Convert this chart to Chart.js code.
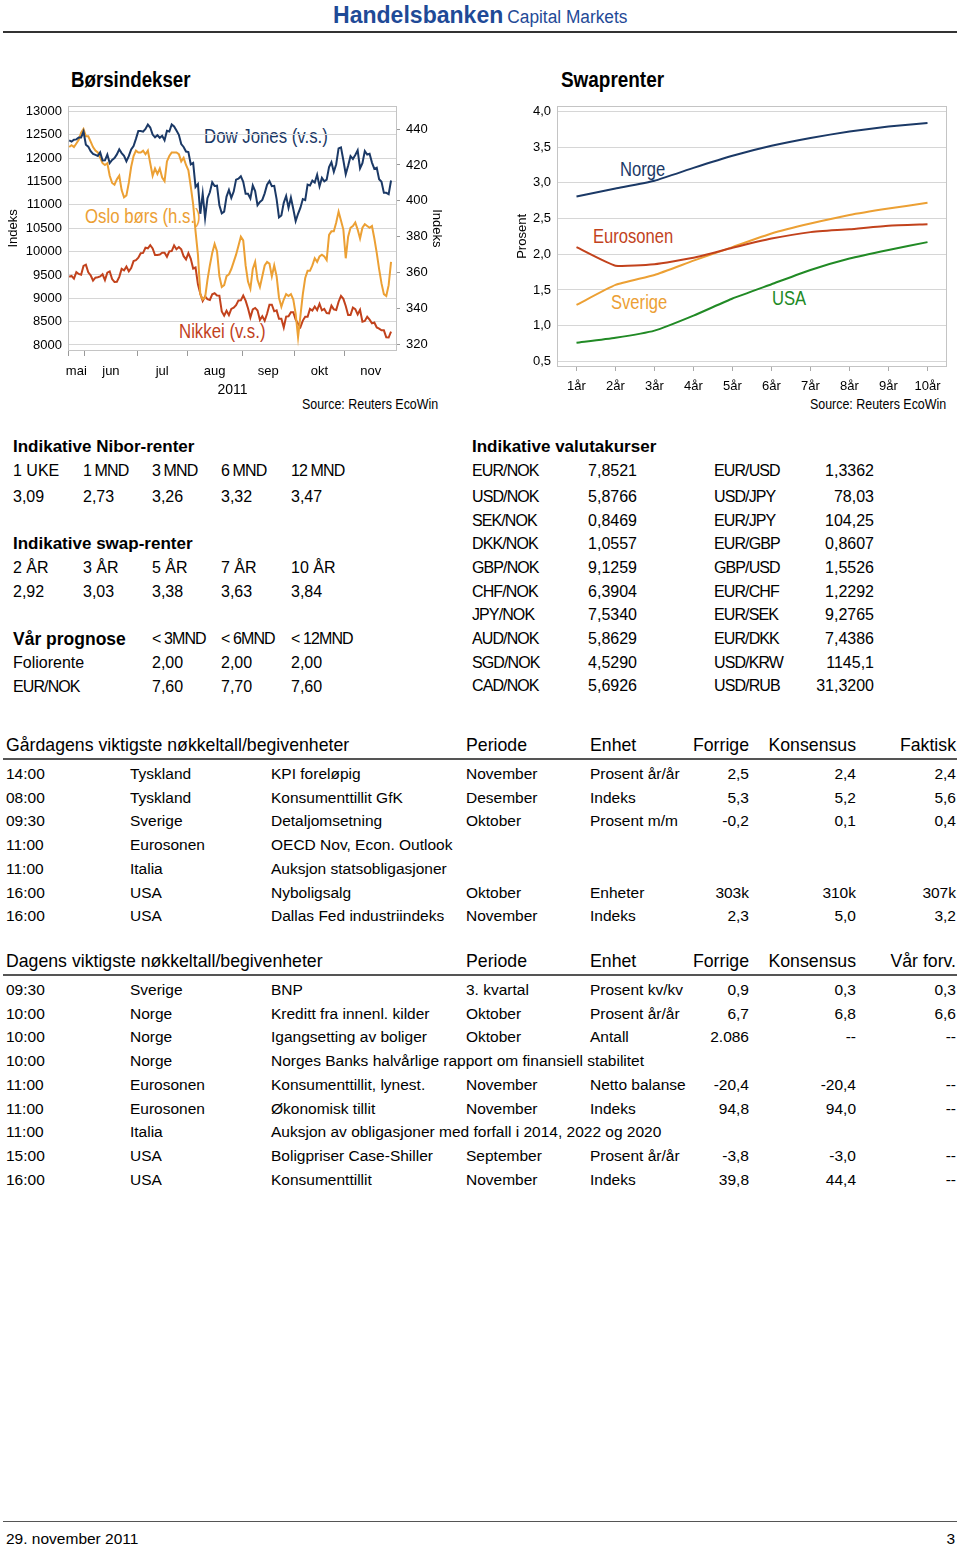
<!DOCTYPE html>
<html>
<head>
<meta charset="utf-8">
<script src="https://cdn.jsdelivr.net/npm/chart.js@4.4.1/dist/chart.umd.min.js"></script>
<style>
body { margin:0; width:960px; height:1546px; position:relative; background:#fff; font-family:'Liberation Sans', Arial, sans-serif; color:#000; overflow:hidden; }
.t { position:absolute; white-space:nowrap; line-height:20px; height:20px; font-size:15px; z-index:1; }
.b { font-weight:bold; }
.tight { letter-spacing:-0.9px; }
.hr { position:absolute; left:3px; width:954px; background:#333; }
canvas { position:absolute; z-index:2; }
</style>
</head>
<body>
<div class="t" style="left:333px; top:2px; height:26px; line-height:26px; color:#1f4a97; transform:scaleX(0.96); transform-origin:0 50%;"><span class="b" style="font-size:24px">Handelsbanken</span> <span style="font-size:18px">Capital Markets</span></div>
<div class="hr" style="top:31px; height:2px;"></div>
<div class="hr" style="top:1521px; height:1px; background:#555;"></div>

<canvas id="c1" width="450" height="308" style="left:0; top:92px;"></canvas>
<canvas id="c2" width="460" height="303" style="left:500px; top:92px;"></canvas>

<script>
// weekday index from 23 May 2011, month boundaries on the same index
const monthBounds = [0, 7, 29, 50, 73, 95, 116, 138];
const monthNames = ['mai', 'jun', 'jul', 'aug', 'sep', 'okt', 'nov'];
const leftTicks = [8000, 8500, 9000, 9500, 10000, 10500, 11000, 11500, 12000, 12500, 13000];
const rightTicks = [320, 340, 360, 380, 400, 420, 440];

const dowJones = [
  12381, 12356, 12395, 12403, 12442, 12442, 12570, 12290, 12248, 12152,
  12090, 12070, 12049, 12124, 11952, 11953, 12076, 11897, 11962, 12004,
  12081, 12190, 12110, 12050, 11934, 12043, 12188, 12262, 12414, 12582,
  12582, 12569, 12626, 12719, 12657, 12506, 12447, 12492, 12437, 12480,
  12386, 12588, 12572, 12724, 12681, 12593, 12502, 12302, 12240, 12143,
  12132, 11867, 11897, 11384, 11445, 10810, 11240, 10720, 11144, 11270,
  11483, 11406, 11411, 10991, 10818, 10855, 11177, 11320, 11150, 11285,
  11540, 11560, 11614, 11494, 11240, 11240, 11139, 11415, 11296, 10993,
  11062, 11106, 11247, 11434, 11510, 11401, 11409, 11125, 10734, 10772,
  11044, 11191, 10937, 11154, 10913, 10655, 10809, 10940, 11124, 11103,
  11433, 11417, 11519, 11479, 11645, 11397, 11578, 11505, 11541, 11809,
  11913, 11707, 11870, 12209, 12232, 11955, 11658, 11836, 12044, 11983,
  12068, 12170, 11781, 11894, 12154, 12079, 12096, 11906, 11771, 11796,
  11548, 11494, 11258, 11258, 11231, 11523
];

const osloBors = [
  430, 431, 430, 432, 434, 438, 440, 436, 436, 433,
  430, 428, 427, 424, 421, 420, 421, 414, 410, 409,
  412, 414, 406, 402, 403, 410, 419, 425, 428, 427,
  427, 428, 426, 428, 421, 414, 418, 415, 418, 413,
  411, 422, 425, 427, 427, 427, 426, 422, 424, 420,
  417, 408, 398, 383, 370, 348, 345, 346, 356, 364,
  371, 376, 372, 358, 352, 353, 358, 359, 362, 366,
  370, 375, 380, 378, 364, 355, 351, 362, 366, 356,
  352, 358, 364, 366, 365, 358, 364, 358, 346, 341,
  345, 348, 347, 348, 345, 337, 324, 336, 348, 357,
  361, 361, 364, 368, 366, 369, 370, 369, 367, 381,
  383, 383, 388, 394, 389, 384, 368, 380, 385, 386,
  388, 384, 379, 385, 387, 386, 385, 386, 379, 371,
  362, 354, 348, 347, 353, 366
];

const nikkei = [
  9460, 9477, 9422, 9562, 9521, 9505, 9694, 9720, 9555, 9492,
  9380, 9442, 9449, 9467, 9514, 9391, 9547, 9574, 9411, 9351,
  9354, 9459, 9629, 9596, 9678, 9578, 9648, 9797, 9816, 9868,
  9965, 9972, 10082, 10071, 10138, 10069, 9926, 9925, 9936, 9974,
  9974, 9889, 10005, 10010, 10132, 10050, 10097, 10047, 9901, 9833,
  9965, 9844, 9637, 9659, 9300, 9097, 8944, 9039, 8982, 8964,
  9086, 9107, 9058, 9057, 8719, 8628, 8733, 8639, 8772, 8797,
  8851, 8954, 8955, 9060, 8950, 8785, 8590, 8763, 8793, 8737,
  8535, 8617, 8518, 8668, 8864, 8864, 8721, 8741, 8560, 8560,
  8374, 8609, 8615, 8701, 8700, 8545, 8456, 8382, 8522, 8606,
  8606, 8773, 8738, 8823, 8747, 8879, 8741, 8772, 8682, 8678,
  8843, 8762, 8748, 8926, 9050, 8988, 8835, 8640, 8640, 8801,
  8767, 8655, 8755, 8500, 8514, 8603, 8541, 8463, 8480, 8374,
  8349, 8314, 8314, 8165, 8160, 8288
];

const tenors = ['1år', '2år', '3år', '4år', '5år', '6år', '7år', '8år', '9år', '10år'];
const swapNorge = [2.81, 2.92, 3.03, 3.21, 3.38, 3.52, 3.63, 3.72, 3.79, 3.84];
const swapEuro = [2.10, 1.84, 1.86, 1.95, 2.09, 2.22, 2.31, 2.35, 2.40, 2.42];
const swapSverige = [1.29, 1.57, 1.71, 1.91, 2.10, 2.29, 2.43, 2.55, 2.64, 2.72];
const swapUSA = [0.76, 0.83, 0.93, 1.14, 1.38, 1.58, 1.78, 1.94, 2.06, 2.17];
const swapTicks = [0.5, 1.0, 1.5, 2.0, 2.5, 3.0, 3.5, 4.0];

const niborHead = ['1 UKE', '1 MND', '3 MND', '6 MND', '12 MND'];
const niborVals = ['3,09', '2,73', '3,26', '3,32', '3,47'];
const swapHead = ['2 ÅR', '3 ÅR', '5 ÅR', '7 ÅR', '10 ÅR'];
const swapVals = ['2,92', '3,03', '3,38', '3,63', '3,84'];
const prognoseHead = ['< 3MND', '< 6MND', '< 12MND'];
const prognose = [
  ['Foliorente', '2,00', '2,00', '2,00'],
  ['EUR/NOK', '7,60', '7,70', '7,60']
];
const valuta = [
  ['EUR/NOK', '7,8521', 'EUR/USD', '1,3362'],
  ['USD/NOK', '5,8766', 'USD/JPY', '78,03'],
  ['SEK/NOK', '0,8469', 'EUR/JPY', '104,25'],
  ['DKK/NOK', '1,0557', 'EUR/GBP', '0,8607'],
  ['GBP/NOK', '9,1259', 'GBP/USD', '1,5526'],
  ['CHF/NOK', '6,3904', 'EUR/CHF', '1,2292'],
  ['JPY/NOK', '7,5340', 'EUR/SEK', '9,2765'],
  ['AUD/NOK', '5,8629', 'EUR/DKK', '7,4386'],
  ['SGD/NOK', '4,5290', 'USD/KRW', '1145,1'],
  ['CAD/NOK', '5,6926', 'USD/RUB', '31,3200']
];
const gaarHead = ['Gårdagens viktigste nøkkeltall/begivenheter', 'Periode', 'Enhet', 'Forrige', 'Konsensus', 'Faktisk'];
const gaarRows = [
  ['14:00', 'Tyskland', 'KPI foreløpig', 'November', 'Prosent år/år', '2,5', '2,4', '2,4'],
  ['08:00', 'Tyskland', 'Konsumenttillit GfK', 'Desember', 'Indeks', '5,3', '5,2', '5,6'],
  ['09:30', 'Sverige', 'Detaljomsetning', 'Oktober', 'Prosent m/m', '-0,2', '0,1', '0,4'],
  ['11:00', 'Eurosonen', 'OECD Nov, Econ. Outlook', '', '', '', '', ''],
  ['11:00', 'Italia', 'Auksjon statsobligasjoner', '', '', '', '', ''],
  ['16:00', 'USA', 'Nyboligsalg', 'Oktober', 'Enheter', '303k', '310k', '307k'],
  ['16:00', 'USA', 'Dallas Fed industriindeks', 'November', 'Indeks', '2,3', '5,0', '3,2']
];
const dagHead = ['Dagens viktigste nøkkeltall/begivenheter', 'Periode', 'Enhet', 'Forrige', 'Konsensus', 'Vår forv.'];
const dagRows = [
  ['09:30', 'Sverige', 'BNP', '3. kvartal', 'Prosent kv/kv', '0,9', '0,3', '0,3'],
  ['10:00', 'Norge', 'Kreditt fra innenl. kilder', 'Oktober', 'Prosent år/år', '6,7', '6,8', '6,6'],
  ['10:00', 'Norge', 'Igangsetting av boliger', 'Oktober', 'Antall', '2.086', '--', '--'],
  ['10:00', 'Norge', 'Norges Banks halvårlige rapport om finansiell stabilitet', '', '', '', '', ''],
  ['11:00', 'Eurosonen', 'Konsumenttillit, lynest.', 'November', 'Netto balanse', '-20,4', '-20,4', '--'],
  ['11:00', 'Eurosonen', 'Økonomisk tillit', 'November', 'Indeks', '94,8', '94,0', '--'],
  ['11:00', 'Italia', 'Auksjon av obligasjoner med forfall i 2014, 2022 og 2020', '', '', '', '', ''],
  ['15:00', 'USA', 'Boligpriser Case-Shiller', 'September', 'Prosent år/år', '-3,8', '-3,0', '--'],
  ['16:00', 'USA', 'Konsumenttillit', 'November', 'Indeks', '39,8', '44,4', '--']
];

const navy = '#1b3966';
const orange = '#eca034';
const red = '#c2421c';
const green = '#218a25';

// put a text line, y is its vertical centre; sx squeezes it like the narrow font of the original
function put(text, x, y, size, cls, color, right, sx) {
    var d = document.createElement('div');
    d.className = 't ' + (cls || '');
    d.textContent = text;
    d.style.fontSize = size + 'px';
    d.style.top = (y - 10) + 'px';
    if (right) d.style.right = (960 - x) + 'px';
    else d.style.left = x + 'px';
    if (color) d.style.color = color;
    if (sx) {
        d.style.transform = 'scaleX(' + sx + ')';
        d.style.transformOrigin = right ? '100% 50%' : '0 50%';
    }
    document.body.appendChild(d);
}

// titles, in-chart labels and sources
put('Børsindekser', 71, 80, 22, 'b', null, false, 0.85);
put('Swaprenter', 561, 80, 22, 'b', null, false, 0.86);
put('Dow Jones (v.s.)', 204, 136, 20, '', navy, false, 0.84);
put('Oslo børs (h.s.)', 85, 216, 20, '', orange, false, 0.84);
put('Nikkei (v.s.)', 179, 331, 20, '', red, false, 0.84);
put('Norge', 620, 169, 20, '', navy, false, 0.83);
put('Eurosonen', 593, 236, 20, '', red, false, 0.83);
put('Sverige', 611, 302, 20, '', orange, false, 0.83);
put('USA', 772, 298, 20, '', green, false, 0.83);
put('Source: Reuters EcoWin', 438, 404, 15, '', null, true, 0.83);
put('Source: Reuters EcoWin', 946, 404, 15, '', null, true, 0.83);

// upper tables
var colX = [13, 83, 152, 221, 291];
put('Indikative Nibor-renter', 13, 447, 17, 'b');
niborHead.forEach(function(s, i) { put(s, colX[i], 471, 16, i ? 'tight' : ''); });
niborVals.forEach(function(s, i) { put(s, colX[i], 497, 16); });
put('Indikative swap-renter', 13, 544, 17, 'b');
swapHead.forEach(function(s, i) { put(s, colX[i], 568, 16); });
swapVals.forEach(function(s, i) { put(s, colX[i], 592, 16); });
put('Vår prognose', 13, 639, 17.5, 'b');
prognoseHead.forEach(function(s, i) { put(s, colX[i + 2], 639, 16, 'tight'); });
prognose.forEach(function(r, j) {
    put(r[0], 13, 663 + j * 23.5, 16, j ? 'tight' : '');
    for (var i = 1; i < 4; i++) put(r[i], colX[i + 1], 663 + j * 23.5, 16);
});

put('Indikative valutakurser', 472, 447, 17, 'b');
var valY = [471, 497, 521, 544, 568, 592, 615, 639, 663, 686];
valuta.forEach(function(r, j) {
    put(r[0], 472, valY[j], 16, 'tight');
    put(r[1], 637, valY[j], 16, '', null, true);
    put(r[2], 714, valY[j], 16, 'tight');
    put(r[3], 874, valY[j], 16, '', null, true);
});

// event tables
function eventTable(head, rows, top) {
    put(head[0], 6, top, 17.7);
    put(head[1], 466, top, 17.7);
    put(head[2], 590, top, 17.7);
    put(head[3], 749, top, 17.7, '', null, true);
    put(head[4], 856, top, 17.7, '', null, true);
    put(head[5], 956, top, 17.7, '', null, true);
    var line = document.createElement('div');
    line.className = 'hr';
    line.style.top = (top + 13) + 'px';
    line.style.height = '2px';
    line.style.background = '#555';
    document.body.appendChild(line);
    rows.forEach(function(r, j) {
        var y = top + 29 + j * 23.7;
        put(r[0], 6, y, 15.5);
        put(r[1], 130, y, 15.5);
        put(r[2], 271, y, 15.5);
        put(r[3], 466, y, 15.5);
        put(r[4], 590, y, 15.5);
        put(r[5], 749, y, 15.5, '', null, true);
        put(r[6], 856, y, 15.5, '', null, true);
        put(r[7], 956, y, 15.5, '', null, true);
    });
}
eventTable(gaarHead, gaarRows, 745);
eventTable(dagHead, dagRows, 961);

put('29. november 2011', 6, 1539, 15.5);
put('3', 955, 1539, 15.5, '', null, true);

Chart.defaults.font.family = "'Liberation Sans', Arial, sans-serif";
Chart.defaults.font.size = 13;
Chart.defaults.color = '#000';

const boxPlugin = {
    id: 'box',
    beforeDatasetsDraw: function(chart) {
        const a = chart.chartArea, c = chart.ctx;
        c.save();
        c.strokeStyle = '#c4c4c4';
        c.lineWidth = 1;
        c.strokeRect(Math.round(a.left) + 0.5, Math.round(a.top) + 0.5, Math.round(a.width) - 1, Math.round(a.height) - 1);
        c.restore();
    }
};

function pts(arr) {
    return arr.map(function(v, i) { return { x: i + 0.5, y: v }; });
}
function fixWidth(w) { return function(s) { s.width = w; }; }
function fixHeight(h) { return function(s) { s.height = h; }; }

new Chart(document.getElementById('c1'), {
    type: 'line',
    data: {
        datasets: [
            { label: 'Dow Jones (v.s.)', data: pts(dowJones), yAxisID: 'yL', borderColor: navy, borderWidth: 2 },
            { label: 'Oslo børs (h.s.)', data: pts(osloBors), yAxisID: 'yR', borderColor: orange, borderWidth: 2 },
            { label: 'Nikkei (v.s.)', data: pts(nikkei), yAxisID: 'yL', borderColor: red, borderWidth: 2 }
        ]
    },
    options: {
        responsive: false,
        animation: false,
        devicePixelRatio: 1,
        layout: { padding: { top: 4, left: 0, right: 0, bottom: 0 } },
        elements: { point: { radius: 0 }, line: { tension: 0 } },
        plugins: { legend: { display: false }, tooltip: { enabled: false } },
        scales: {
            x: {
                type: 'linear', position: 'bottom', min: 0, max: 138,
                afterBuildTicks: function(s) { s.ticks = monthBounds.slice(0, 7).map(function(v) { return { value: v }; }); },
                ticks: { display: false },
                grid: { drawOnChartArea: false, drawTicks: true, tickLength: 5, color: '#999' },
                border: { display: false },
                afterFit: fixHeight(6)
            },
            x2: {
                type: 'linear', position: 'bottom', min: 0, max: 138,
                afterBuildTicks: function(s) {
                    s.ticks = monthNames.map(function(m, i) { return { value: (monthBounds[i] + monthBounds[i + 1]) / 2 }; });
                },
                ticks: { autoSkip: false, maxRotation: 0, padding: 7, callback: function(v, i) { return monthNames[i]; } },
                grid: { display: false, drawTicks: false },
                border: { display: false },
                title: { display: true, text: '2011', font: { size: 14 }, padding: { top: 0, bottom: 1 } },
                afterFit: fixHeight(43)
            },
            yL: {
                position: 'left', min: 7871, max: 13122,
                afterBuildTicks: function(s) { s.ticks = leftTicks.map(function(v) { return { value: v }; }); },
                ticks: { padding: 6, callback: function(v) { return String(v); } },
                grid: { color: '#d6d6d6', drawTicks: false },
                border: { display: false },
                title: { display: true, text: 'Indeks', font: { size: 13 }, padding: { top: 6, bottom: 0 } },
                afterFit: fixWidth(68)
            },
            yR: {
                position: 'right', min: 316.3, max: 453,
                afterBuildTicks: function(s) { s.ticks = rightTicks.map(function(v) { return { value: v }; }); },
                ticks: { padding: 6, callback: function(v) { return String(v); } },
                grid: { drawOnChartArea: false, tickLength: 3, color: '#999' },
                border: { display: false },
                title: { display: true, text: 'Indeks', font: { size: 13 }, padding: { top: 6, bottom: 0 } },
                afterFit: fixWidth(53)
            }
        }
    },
    plugins: [boxPlugin]
});

new Chart(document.getElementById('c2'), {
    type: 'line',
    data: {
        labels: tenors,
        datasets: [
            { label: 'Norge', data: swapNorge, borderColor: navy, borderWidth: 2 },
            { label: 'Eurosonen', data: swapEuro, borderColor: red, borderWidth: 2 },
            { label: 'Sverige', data: swapSverige, borderColor: orange, borderWidth: 2 },
            { label: 'USA', data: swapUSA, borderColor: green, borderWidth: 2 }
        ]
    },
    options: {
        responsive: false,
        animation: false,
        devicePixelRatio: 1,
        layout: { padding: { top: 4, left: 0, right: 13, bottom: 0 } },
        elements: { point: { radius: 0 }, line: { tension: 0.15 } },
        plugins: { legend: { display: false }, tooltip: { enabled: false } },
        scales: {
            x: {
                offset: true,
                ticks: { autoSkip: false, maxRotation: 0, padding: 8 },
                grid: { offset: false, drawOnChartArea: false, tickLength: 4, color: '#aaa' },
                border: { display: false },
                afterFit: fixHeight(28)
            },
            y: {
                min: 0.42, max: 4.08,
                afterBuildTicks: function(s) { s.ticks = swapTicks.map(function(v) { return { value: v }; }); },
                ticks: { padding: 6, callback: function(v) { return v.toFixed(1).replace('.', ','); } },
                grid: { color: '#d6d6d6', drawTicks: false },
                border: { display: false },
                title: { display: true, text: 'Prosent', font: { size: 13 }, padding: { top: 15, bottom: 0 } },
                afterFit: fixWidth(57)
            }
        }
    },
    plugins: [boxPlugin]
});
</script>
</body>
</html>
